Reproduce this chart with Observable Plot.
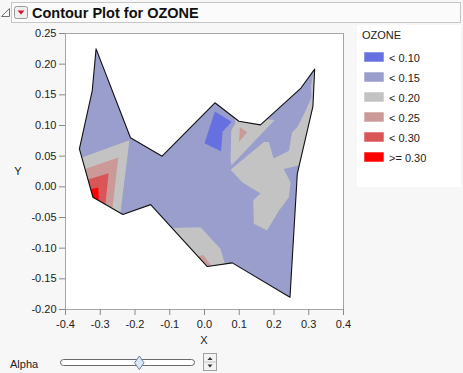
<!DOCTYPE html>
<html>
<head>
<meta charset="utf-8">
<script src="https://cdn.jsdelivr.net/npm/d3@7"></script>
<script src="https://cdn.jsdelivr.net/npm/@observablehq/plot@0.6"></script>
<style>
  html, body { margin: 0; padding: 0; }
  body { width: 463px; height: 373px; background: #f7f7f7; overflow: hidden; position: relative; font-family: "Liberation Sans", Arial, sans-serif; }
  #chrome, #plot { position: absolute; left: 0; top: 0; }
</style>
</head>
<body>
<svg id="chrome" width="463" height="373"></svg>
<div id="plot"></div>
<script>
// ---- data ----
const xTicks = [-0.4, -0.3, -0.2, -0.1, 0, 0.1, 0.2, 0.3, 0.4];
const yTicks = [-0.2, -0.15, -0.1, -0.05, 0, 0.05, 0.1, 0.15, 0.2, 0.25];

const levels = ["< 0.10", "< 0.15", "< 0.20", "< 0.25", "< 0.30", ">= 0.30"];
const levelColors = ["#6670e0", "#999ecc", "#c3c3c3", "#cc9999", "#d95558", "#ff0000"];

// outer hull of the data (X, Y)
const boundary = [[-0.312,0.225],[-0.323,0.157],[-0.360,0.062],[-0.321,-0.017],[-0.235,-0.045],[-0.155,-0.029],[0.008,-0.130],[0.080,-0.124],[0.246,-0.180],[0.267,0.021],[0.312,0.131],[0.317,0.192],[0.276,0.160],[0.161,0.101],[0.099,0.107],[0.030,0.137],[-0.122,0.050],[-0.213,0.080]];

// contour regions (X, Y), each tagged with its level
const grayLeft = [[-0.353,0.048],[-0.216,0.076],[-0.242,-0.043],[-0.321,-0.017]];
const pinkLeft = [[-0.344,0.029],[-0.248,0.048],[-0.265,-0.035],[-0.321,-0.017]];
const darkRedLeft = [[-0.335,0.012],[-0.276,0.022],[-0.285,-0.029],[-0.321,-0.017]];
const redLeft = [[-0.327,-0.004],[-0.306,-0.001],[-0.304,-0.0225],[-0.321,-0.017]];
const grayUpper = [[0.085,0.113],[0.099,0.107],[0.161,0.101],[0.178,0.110],[0.202,0.109],[0.078,0.035],[0.075,0.043],[0.077,0.092],[0.089,0.104]];
const grayRight = [[0.079,0.030],[0.171,0.073],[0.185,0.073],[0.199,0.046],[0.243,0.059],[0.252,0.089],[0.267,0.097],[0.291,0.124],[0.308,0.146],[0.3065,0.165],[0.315,0.190],[0.317,0.192],[0.312,0.131],[0.273,0.035],[0.228,0.029],[0.2475,0.0075],[0.243,-0.017],[0.214,-0.039],[0.180,-0.071],[0.142,-0.060],[0.140,-0.022],[0.161,-0.011],[0.1085,0.0075],[0.075,0.028]];
const grayBottom = [[-0.093,-0.067],[-0.0115,-0.066],[0.046,-0.101],[0.059,-0.126],[0.008,-0.130]];
const pinkBottom = [[-0.019,-0.113],[-0.003,-0.111],[0.020,-0.129],[0.008,-0.130]];
const pinkSmall = [[0.102,0.097],[0.123,0.089],[0.099,0.073]];
const blueSpot = [[0.030,0.123],[0.078,0.106],[0.052,0.090],[0.0475,0.058],[0.000,0.071]];

const regions = [
  [boundary, 1],
  [grayLeft, 2], [grayUpper, 2], [grayRight, 2], [grayBottom, 2],
  [pinkLeft, 3], [pinkSmall, 3], [pinkBottom, 3],
  [darkRedLeft, 4],
  [redLeft, 5],
  [blueSpot, 0]
];

// ---- plot ----
const font = '"Liberation Sans", Arial, sans-serif';
const polyMarks = regions.map(([pts, lev]) =>
  Plot.line(pts, {x: d => d[0], y: d => d[1], fill: levelColors[lev], stroke: "none"})
);

const chart = Plot.plot({
  width: 463,
  height: 373,
  marginLeft: 65,
  marginRight: 120,
  marginTop: 33,
  marginBottom: 64,
  x: {domain: [-0.4, 0.4]},
  y: {domain: [-0.2, 0.25]},
  style: {background: "transparent", fontFamily: font, fontSize: "11px", color: "#222"},
  marks: [
    Plot.frame({fill: "white", stroke: "none"}),
    ...polyMarks,
    Plot.line([...boundary, boundary[0]], {x: d => d[0], y: d => d[1], stroke: "#111", strokeWidth: 1.1}),
    Plot.frame({stroke: "#a6a6a6"}),
    Plot.axisX({ticks: xTicks, tickFormat: d => d.toFixed(1), tickSize: 6, tickPadding: 5, stroke: "#8a8a8a", label: null}),
    Plot.axisY({ticks: yTicks, tickFormat: d => d.toFixed(2), tickSize: 6, tickPadding: 3, stroke: "#8a8a8a", label: null})
  ]
});
document.getElementById("plot").appendChild(chart);

// ---- chrome: title bar, axis names, legend, alpha slider ----
const svg = d3.select("#chrome");
svg.append("rect").attr("x", 11.5).attr("y", 2.5).attr("width", 449).attr("height", 20)
  .attr("fill", "#fbfbfb").attr("stroke", "#c6c6c6");
svg.append("polygon").attr("points", "1.5,16.5 9.5,16.5 9.5,8.5").attr("fill", "#fff").attr("stroke", "#707070");
svg.append("rect").attr("x", 14.5).attr("y", 6.5).attr("width", 13).attr("height", 12).attr("rx", 2)
  .attr("fill", "#efefef").attr("stroke", "#9a9a9a");
svg.append("polygon").attr("points", "17.5,10.5 24.5,10.5 21,14.5").attr("fill", "#d4102c");
svg.append("text").attr("x", 32).attr("y", 18).attr("font-family", font).attr("font-weight", "bold")
  .attr("font-size", "14.5px").attr("fill", "#111").text("Contour Plot for OZONE");

// axis names
svg.append("text").attr("x", 18).attr("y", 175).attr("text-anchor", "middle").attr("font-family", font)
  .attr("font-size", "11px").attr("fill", "#222").text("Y");
svg.append("text").attr("x", 204).attr("y", 343.5).attr("text-anchor", "middle").attr("font-family", font)
  .attr("font-size", "11px").attr("fill", "#222").text("X");

// legend
svg.append("rect").attr("x", 357).attr("y", 25).attr("width", 104).attr("height", 162).attr("fill", "#fff");
svg.append("text").attr("x", 362).attr("y", 39).attr("font-family", font).attr("font-size", "11px")
  .attr("fill", "#222").text("OZONE");
levels.forEach((lab, i) => {
  const y0 = 52 + i * 20;
  svg.append("rect").attr("x", 364.5).attr("y", y0 + 0.5).attr("width", 19).attr("height", 9)
    .attr("fill", levelColors[i]).attr("stroke", levelColors[i]).attr("stroke-opacity", 0.45);
  svg.append("text").attr("x", 389).attr("y", y0 + 9.5).attr("font-family", font).attr("font-size", "11px")
    .attr("fill", "#222").text(lab);
});

// alpha slider
svg.append("text").attr("x", 10).attr("y", 367.5).attr("font-family", font).attr("font-size", "11px")
  .attr("fill", "#222").text("Alpha");
svg.append("rect").attr("x", 60.5).attr("y", 359.5).attr("width", 134).attr("height", 6).attr("rx", 3)
  .attr("fill", "#fff").attr("stroke", "#6a6a6a");
svg.append("polygon").attr("points", "139.3,356 144,362.8 139.3,369.6 134.6,362.8")
  .attr("fill", "#dce7f5").attr("stroke", "#6d82a6");
svg.append("rect").attr("x", 203.5).attr("y", 353.5).attr("width", 13).attr("height", 17)
  .attr("fill", "#f3f3f3").attr("stroke", "#a0a0a0");
svg.append("line").attr("x1", 204).attr("x2", 216).attr("y1", 362).attr("y2", 362).attr("stroke", "#c4c4c4");
svg.append("polygon").attr("points", "207.5,360 212.5,360 210,357").attr("fill", "#333");
svg.append("polygon").attr("points", "207.5,364.5 212.5,364.5 210,367.5").attr("fill", "#333");
</script>
</body>
</html>
